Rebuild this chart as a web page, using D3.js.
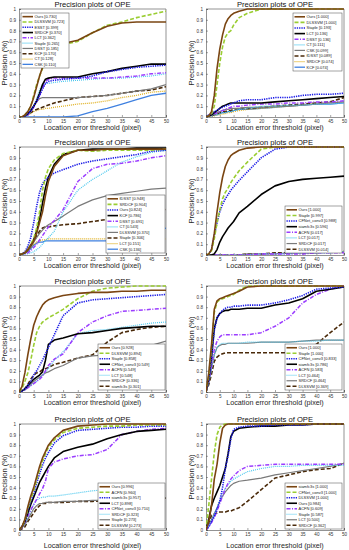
<!DOCTYPE html>
<html><head><meta charset="utf-8">
<script src="https://cdn.jsdelivr.net/npm/d3@7/dist/d3.min.js"></script>
<style>
html,body{margin:0;padding:0;background:#fff;}
svg{display:block;font-family:"Liberation Sans",Arial,sans-serif;}
</style></head>
<body>
<svg id="c" width="349" height="550"></svg>
<script>
// ---------- DATA ----------
const thresholds = [0,1,2,3,4,5,6,7,8,9,10,12,15,20,25,30,35,40,45,50];
const xTicks = [0,5,10,15,20,25,30,35,40,45,50];
const yTicks = [0,0.1,0.2,0.3,0.4,0.5,0.6,0.7,0.8,0.9,1];
const yTickLabels = ["0","0.1","0.2","0.3","0.4","0.5","0.6","0.7","0.8","0.9","1"];
const titleText = "Precision plots of OPE";
const xLabel = "Location error threshold (pixel)";
const yLabel = "Precision (%)";

// Panel 1
const p1Names = ["Ours","DLSSVM","ESST","SRDCF","LCT","Staple","DSST","KCF","CT","CSK"];
const p1Scores = ["0.730","0.723","0.399","0.370","0.362","0.265","0.185","0.170","0.128","0.110"];
const p1Values = [
 [0,0,0.02,0.05,0.10,0.18,0.28,0.38,0.46,0.52,0.58,0.64,0.68,0.71,0.78,0.84,0.87,0.88,0.88,0.88],
 [0,0,0.02,0.05,0.10,0.20,0.30,0.38,0.45,0.52,0.58,0.63,0.67,0.70,0.78,0.85,0.88,0.92,0.95,0.98],
 [0,0,0.01,0.03,0.06,0.10,0.15,0.20,0.26,0.31,0.33,0.34,0.35,0.36,0.38,0.42,0.44,0.46,0.47,0.48],
 [0,0,0.01,0.03,0.06,0.10,0.15,0.22,0.30,0.35,0.36,0.37,0.37,0.37,0.40,0.42,0.45,0.47,0.49,0.49],
 [0,0,0.01,0.02,0.05,0.09,0.14,0.20,0.27,0.33,0.35,0.36,0.36,0.36,0.36,0.36,0.37,0.38,0.40,0.41],
 [0,0,0.01,0.02,0.05,0.10,0.17,0.25,0.30,0.31,0.31,0.32,0.33,0.34,0.35,0.36,0.36,0.37,0.38,0.40],
 [0,0,0.01,0.03,0.06,0.10,0.14,0.17,0.18,0.18,0.18,0.18,0.18,0.18,0.19,0.20,0.22,0.24,0.26,0.30],
 [0,0,0.01,0.02,0.04,0.06,0.07,0.08,0.09,0.10,0.11,0.13,0.15,0.18,0.19,0.20,0.22,0.24,0.25,0.28],
 [0,0,0.01,0.02,0.03,0.05,0.06,0.07,0.07,0.08,0.08,0.09,0.10,0.12,0.13,0.15,0.18,0.20,0.23,0.24],
 [0,0,0,0,0,0,0,0,0,0,0,0,0,0.01,0.05,0.08,0.12,0.16,0.20,0.22]
];

// Panel 2
const p2Names = ["Ours","DLSSVM","Staple","LCT","DSST","CT","CSK","fDSST","SRDCF","KCF"];
const p2Scores = ["1.000","1.000","0.193","0.136","0.136","0.111","0.099","0.089","0.074","0.074"];
const p2Values = [
 [0,0.01,0.05,0.20,0.45,0.63,0.76,0.86,0.91,0.94,0.96,0.98,1,1,1,1,1,1,1,1],
 [0,0.01,0.03,0.10,0.30,0.50,0.65,0.74,0.78,0.80,0.85,0.92,0.96,1,1,1,1,1,1,1],
 [0,0.02,0.03,0.05,0.06,0.08,0.09,0.10,0.11,0.12,0.13,0.15,0.16,0.16,0.18,0.18,0.20,0.21,0.21,0.22],
 [0,0.01,0.02,0.04,0.06,0.08,0.10,0.11,0.12,0.13,0.13,0.13,0.13,0.13,0.14,0.15,0.16,0.17,0.18,0.19],
 [0,0.01,0.02,0.03,0.04,0.05,0.06,0.07,0.08,0.09,0.10,0.10,0.11,0.12,0.12,0.13,0.13,0.14,0.14,0.15],
 [0,0.01,0.01,0.02,0.02,0.03,0.04,0.04,0.05,0.05,0.06,0.07,0.08,0.10,0.10,0.11,0.11,0.12,0.12,0.13],
 [0,0.01,0.02,0.03,0.04,0.05,0.06,0.07,0.07,0.08,0.08,0.08,0.09,0.09,0.10,0.10,0.11,0.12,0.13,0.14],
 [0,0.01,0.01,0.02,0.03,0.04,0.05,0.05,0.06,0.06,0.07,0.08,0.08,0.09,0.10,0.11,0.12,0.13,0.14,0.18],
 [0,0,0.01,0.01,0.02,0.02,0.03,0.03,0.04,0.04,0.05,0.06,0.07,0.08,0.09,0.10,0.11,0.13,0.13,0.14],
 [0,0.01,0.01,0.02,0.02,0.03,0.04,0.04,0.05,0.05,0.06,0.07,0.07,0.08,0.09,0.10,0.11,0.12,0.12,0.13]
];

// Panel 3
const p3Names = ["fDSST","SRDCF","Ours","KCF","DSST","CT","DLSSVM","Staple","LCT","CSK"];
const p3Scores = ["0.948","0.904","0.824","0.786","0.691","0.543","0.370","0.306","0.151","0.136"];
const p3Values = [
 [0,0.01,0.02,0.05,0.09,0.13,0.20,0.30,0.40,0.55,0.68,0.82,0.92,0.97,0.97,0.98,0.98,0.98,0.98,0.98],
 [0,0.01,0.02,0.05,0.10,0.15,0.25,0.40,0.60,0.72,0.80,0.88,0.94,0.97,0.96,0.97,0.97,0.97,0.97,0.98],
 [0,0.01,0.03,0.08,0.16,0.30,0.45,0.58,0.66,0.70,0.72,0.76,0.79,0.84,0.87,0.89,0.91,0.93,0.96,0.97],
 [0,0.01,0.02,0.05,0.09,0.14,0.22,0.33,0.48,0.62,0.72,0.84,0.93,0.97,0.98,0.98,0.98,0.99,0.99,0.99],
 [0,0.01,0.01,0.02,0.04,0.07,0.10,0.14,0.18,0.22,0.26,0.32,0.42,0.68,0.80,0.84,0.85,0.87,0.90,0.92],
 [0,0,0.01,0.01,0.02,0.03,0.05,0.07,0.10,0.13,0.16,0.22,0.40,0.60,0.70,0.78,0.86,0.91,0.95,0.97],
 [0,0.01,0.02,0.04,0.07,0.12,0.16,0.20,0.23,0.26,0.28,0.31,0.36,0.45,0.51,0.55,0.57,0.59,0.61,0.62],
 [0,0.01,0.02,0.04,0.08,0.13,0.18,0.22,0.25,0.26,0.26,0.27,0.28,0.29,0.31,0.33,0.34,0.35,0.38,0.42],
 [0,0.01,0.02,0.04,0.07,0.10,0.12,0.13,0.14,0.14,0.15,0.15,0.15,0.15,0.15,0.15,0.15,0.15,0.15,0.15],
 [0,0.01,0.02,0.03,0.06,0.09,0.11,0.12,0.12,0.13,0.13,0.13,0.13,0.13,0.13,0.13,0.13,0.14,0.20,0.25]
];

// Panel 4
const p4Names = ["Ours","Staple","CFNet_conv3","siamfc3s","ACFN","LCT","SRDCF","DLSSVM"];
const p4Scores = ["1.000","0.997","0.988","0.596","0.017","0.017","0.017","0.014"];
const p4Values = [
 [0,0.01,0.05,0.20,0.40,0.58,0.72,0.82,0.88,0.92,0.94,0.97,0.99,1,1,1,1,1,1,1],
 [0,0.01,0.04,0.15,0.30,0.42,0.52,0.58,0.62,0.67,0.71,0.78,0.86,0.98,1,1,1,1,1,1],
 [0,0.01,0.05,0.18,0.30,0.40,0.47,0.52,0.56,0.60,0.63,0.69,0.77,0.90,0.98,1,1,1,1,1],
 [0,0,0,0.01,0.05,0.12,0.17,0.21,0.25,0.28,0.31,0.39,0.45,0.56,0.64,0.68,0.70,0.71,0.72,0.73],
 [0,0,0,0,0,0,0,0,0,0,0,0,0,0.01,0.01,0.01,0.01,0.02,0.02,0.02],
 [0,0,0,0,0,0,0,0,0,0,0,0,0,0.01,0.01,0.01,0.02,0.02,0.02,0.03],
 [0,0,0,0,0,0,0,0,0,0,0,0,0.01,0.01,0.01,0.02,0.02,0.02,0.03,0.03],
 [0,0,0,0,0,0,0,0,0,0,0,0,0.01,0.01,0.02,0.02,0.03,0.03,0.03,0.04]
];

// Panel 5
const p5Names = ["Ours","DLSSVM","Staple","CFNet_conv3","ACFN","LCT","SRDCF","siamfc3s"];
const p5Scores = ["0.928","0.894","0.858","0.549","0.549","0.548","0.336","0.301"];
const p5Values = [
 [0,0.05,0.18,0.35,0.50,0.63,0.71,0.77,0.82,0.85,0.87,0.89,0.91,0.93,0.94,0.94,0.95,0.95,0.96,0.96],
 [0,0.03,0.10,0.18,0.30,0.44,0.56,0.62,0.66,0.68,0.70,0.73,0.78,0.88,0.95,0.98,0.99,1,1,1],
 [0,0.01,0.03,0.06,0.10,0.16,0.20,0.25,0.30,0.36,0.42,0.54,0.72,0.84,0.87,0.88,0.89,0.90,0.91,0.92],
 [0,0.01,0.03,0.06,0.09,0.12,0.14,0.16,0.19,0.30,0.45,0.49,0.51,0.55,0.56,0.58,0.60,0.61,0.62,0.62],
 [0,0.01,0.02,0.04,0.06,0.08,0.10,0.12,0.15,0.20,0.25,0.31,0.36,0.56,0.66,0.72,0.76,0.77,0.78,0.79],
 [0,0.01,0.02,0.04,0.06,0.08,0.10,0.13,0.16,0.19,0.22,0.30,0.38,0.55,0.58,0.59,0.61,0.63,0.65,0.66],
 [0,0.01,0.02,0.04,0.07,0.10,0.12,0.14,0.16,0.18,0.19,0.22,0.25,0.32,0.34,0.35,0.37,0.39,0.44,0.48],
 [0,0.01,0.03,0.07,0.12,0.16,0.18,0.19,0.21,0.22,0.23,0.26,0.28,0.32,0.35,0.47,0.56,0.59,0.61,0.62]
];

// Panel 6
const p6Names = ["Ours","Staple","CFNet_conv3","siamfc3s","ACFN","LCT","SRDCF","DLSSVM"];
const p6Scores = ["1.000","1.000","0.833","0.786","0.583","0.464","0.464","0.369"];
const p6Values = [
 [0,0.18,0.45,0.78,0.86,0.88,0.89,0.90,0.91,0.92,0.93,0.95,0.99,1,1,1,1,1,1,1],
 [0,0.15,0.42,0.75,0.85,0.87,0.88,0.89,0.90,0.91,0.92,0.96,1,1,1,1,1,1,1,1],
 [0,0.12,0.32,0.58,0.70,0.74,0.77,0.79,0.80,0.80,0.81,0.81,0.82,0.82,0.84,0.87,0.91,0.97,0.98,0.99],
 [0,0.12,0.33,0.60,0.70,0.74,0.76,0.77,0.77,0.78,0.78,0.78,0.79,0.79,0.82,0.84,0.88,0.95,0.97,0.99],
 [0,0.10,0.25,0.40,0.48,0.52,0.54,0.54,0.54,0.54,0.54,0.54,0.54,0.56,0.62,0.70,0.84,0.92,0.97,1],
 [0,0.09,0.22,0.35,0.42,0.45,0.46,0.46,0.46,0.46,0.46,0.46,0.47,0.47,0.47,0.47,0.48,0.48,0.49,0.49],
 [0,0.09,0.22,0.35,0.42,0.44,0.45,0.45,0.46,0.46,0.46,0.46,0.46,0.47,0.47,0.47,0.48,0.49,0.49,0.49],
 [0,0.07,0.17,0.29,0.33,0.35,0.36,0.37,0.37,0.37,0.37,0.37,0.37,0.37,0.37,0.37,0.39,0.45,0.56,0.66]
];

// Panel 7
const p7Names = ["Ours","ACFN","siamfc3s","LCT","CFNet_conv3","SRDCF","Staple","DLSSVM"];
const p7Scores = ["0.996","0.960","0.957","0.898","0.710","0.323","0.273","0.273"];
const p7Values = [
 [0,0.03,0.10,0.22,0.32,0.40,0.50,0.60,0.68,0.74,0.80,0.87,0.94,0.98,0.99,1,1,1,1,1],
 [0,0.03,0.09,0.20,0.29,0.37,0.47,0.57,0.65,0.72,0.78,0.85,0.92,0.96,0.97,0.98,0.98,0.99,0.99,0.99],
 [0,0.03,0.09,0.19,0.27,0.34,0.44,0.53,0.61,0.68,0.73,0.82,0.89,0.94,0.95,0.96,0.97,0.97,0.98,0.98],
 [0,0.03,0.08,0.16,0.24,0.31,0.38,0.45,0.50,0.55,0.60,0.68,0.74,0.78,0.81,0.86,0.90,0.93,0.94,0.95],
 [0,0.02,0.07,0.13,0.19,0.24,0.29,0.34,0.39,0.46,0.58,0.64,0.67,0.70,0.71,0.76,0.90,0.93,0.95,0.96],
 [0,0.02,0.06,0.12,0.18,0.24,0.28,0.30,0.31,0.31,0.32,0.32,0.33,0.35,0.37,0.38,0.39,0.40,0.41,0.42],
 [0,0.02,0.05,0.10,0.15,0.20,0.23,0.25,0.25,0.26,0.26,0.26,0.27,0.27,0.28,0.28,0.29,0.30,0.30,0.30],
 [0,0.01,0.03,0.08,0.12,0.16,0.20,0.23,0.25,0.25,0.26,0.26,0.26,0.27,0.27,0.28,0.29,0.29,0.30,0.30]
];

// Panel 8
const p8Names = ["siamfc3s","CFNet_conv3","DLSSVM","Ours","ACFN","Staple","LCT","SRDCF"];
const p8Scores = ["1.000","1.000","1.000","0.984","0.609","0.587","0.500","0.362"];
const p8Values = [
 [0,0.08,0.23,0.48,0.62,0.82,0.96,0.99,1,1,1,1,1,1,1,1,1,1,1,1],
 [0,0.23,0.48,0.73,0.90,0.97,0.99,1,1,1,1,1,1,1,1,1,1,1,1,1],
 [0,0.03,0.08,0.13,0.20,0.27,0.40,0.58,0.70,0.86,0.95,0.97,0.98,0.98,0.99,0.99,0.99,1,1,1],
 [0,0.10,0.23,0.30,0.36,0.42,0.50,0.58,0.72,0.88,0.93,0.96,0.97,0.98,0.98,0.99,0.99,1,1,1],
 [0,0.03,0.07,0.12,0.18,0.25,0.32,0.39,0.44,0.48,0.51,0.56,0.60,0.61,0.62,0.62,0.62,0.62,0.62,0.62],
 [0,0.04,0.09,0.15,0.21,0.28,0.34,0.39,0.43,0.46,0.48,0.51,0.55,0.58,0.60,0.60,0.61,0.61,0.61,0.61],
 [0,0.04,0.10,0.15,0.21,0.27,0.32,0.36,0.39,0.42,0.44,0.46,0.47,0.49,0.52,0.54,0.56,0.58,0.60,0.63],
 [0,0.06,0.14,0.15,0.16,0.17,0.17,0.17,0.18,0.18,0.19,0.21,0.27,0.38,0.49,0.52,0.55,0.57,0.58,0.63]
];

// ---------- STYLE / LAYOUT ----------
const rankStyles = [
 {c:"#7a4512", d:null, w:1.6},
 {c:"#9acd32", d:"4,2", w:1.6},
 {c:"#1c1ce6", d:"1.3,1", w:1.6},
 {c:"#000000", d:null, w:1.6},
 {c:"#9b3dff", d:"4,1.5,1,1.5", w:1.5},
 {c:"#4cc8ee", d:"1,1", w:1.2},
 {c:"#7a7a7a", d:null, w:1.2},
 {c:"#4a2a0a", d:"4,2", w:1.6},
 {c:"#e0b020", d:"1,1", w:1.3},
 {c:"#3f80e0", d:null, w:1.3}
];

const panels = [
 {names:p1Names, scores:p1Scores, values:p1Values, L:19, R:166, T:9, B:117, lg:[21,13,48,55], xl:13},
 {names:p2Names, scores:p2Scores, values:p2Values, L:206, R:344, T:9, B:117, lg:[293,13,49,58], xl:13},
 {names:p3Names, scores:p3Scores, values:p3Values, L:19, R:166, T:147, B:255, lg:[106,195,59,58], xl:13},
 {names:p4Names, scores:p4Scores, values:p4Values, L:206, R:344, T:147, B:255, lg:[285,206,57,47], xl:13},
 {names:p5Names, scores:p5Scores, values:p5Values, L:19, R:166, T:286, B:392, lg:[98,344,67,46], xl:13},
 {names:p6Names, scores:p6Scores, values:p6Values, L:206, R:344, T:286, B:392, lg:[285,344,57,46], xl:13},
 {names:p7Names, scores:p7Scores, values:p7Values, L:19, R:166, T:424, B:530, lg:[98,483,67,46], xl:18},
 {names:p8Names, scores:p8Scores, values:p8Values, L:206, R:344, T:424, B:530, lg:[285,483,57,46], xl:18}
];

const svg = d3.select("#c");
const axisColor = "#4a4a4a";

panels.forEach((p, pi) => {
  const g = svg.append("g");
  const x = d3.scaleLinear().domain([0,50]).range([p.L, p.R]);
  const y = d3.scaleLinear().domain([0,1]).range([p.B, p.T]);

  const cid = "clip" + pi;
  svg.append("clipPath").attr("id", cid).append("rect")
    .attr("x", p.L).attr("y", p.T - 1).attr("width", p.R - p.L).attr("height", p.B - p.T + 1);

  const xa = g.append("g").attr("transform", `translate(0,${p.B})`)
    .call(d3.axisBottom(x).tickValues(xTicks).tickSize(-2).tickPadding(3).tickFormat(d3.format("d")));
  const ya = g.append("g").attr("transform", `translate(${p.L},0)`)
    .call(d3.axisLeft(y).tickValues(yTicks).tickSize(-2).tickPadding(3).tickFormat((d,i)=>yTickLabels[i]));
  [xa, ya].forEach(a => {
    a.select(".domain").attr("stroke", axisColor).attr("stroke-width", 0.6);
    a.selectAll(".tick line").attr("stroke", axisColor).attr("stroke-width", 0.5);
    a.selectAll(".tick text").attr("fill", "#333").style("font-size", "4.6px")
      .style("font-family", '"Liberation Sans",Arial,sans-serif');
  });
  g.append("line").attr("x1", p.L).attr("x2", p.R).attr("y1", p.T).attr("y2", p.T)
    .attr("stroke", axisColor).attr("stroke-width", 0.6);
  g.append("line").attr("x1", p.R).attr("x2", p.R).attr("y1", p.T).attr("y2", p.B)
    .attr("stroke", axisColor).attr("stroke-width", 0.6);

  const line = d3.line().x((d,i) => x(thresholds[i])).y(d => y(d));
  const lg = g.append("g").attr("clip-path", `url(#${cid})`);
  for (let k = p.values.length - 1; k >= 0; k--) {
    const s = rankStyles[k];
    lg.append("path").datum(p.values[k]).attr("d", line)
      .attr("fill", "none").attr("stroke", s.c).attr("stroke-width", s.w)
      .attr("stroke-dasharray", s.d).attr("stroke-linejoin", "round");
  }

  const cx = (p.L + p.R) / 2;
  g.append("text").attr("x", cx).attr("y", p.T - 2.5).attr("text-anchor", "middle")
    .style("font-size", "7.6px").attr("fill", "#111").text(titleText);
  g.append("text").attr("x", cx).attr("y", p.B + p.xl).attr("text-anchor", "middle")
    .style("font-size", "7.2px").attr("fill", "#262626").text(xLabel);
  g.append("text").attr("transform", `translate(${p.L - 12},${(p.T + p.B) / 2}) rotate(-90)`)
    .attr("text-anchor", "middle").style("font-size", "7.6px").attr("fill", "#262626").text(yLabel);

  const [lx, ly, lw, lh] = p.lg;
  const leg = g.append("g");
  leg.append("rect").attr("x", lx).attr("y", ly).attr("width", lw).attr("height", lh)
    .attr("fill", "#fff").attr("stroke", axisColor).attr("stroke-width", 0.5);
  const n = p.names.length;
  const rowH = (lh - 2) / n;
  p.names.forEach((nm, k) => {
    const s = rankStyles[k];
    const yy = ly + 1 + rowH * (k + 0.5);
    leg.append("line").attr("x1", lx + 1.5).attr("x2", lx + 12).attr("y1", yy).attr("y2", yy)
      .attr("stroke", s.c).attr("stroke-width", s.w).attr("stroke-dasharray", s.d);
    leg.append("text").attr("x", lx + 13.5).attr("y", yy + 1.4)
      .style("font-size", "4px").attr("fill", "#222").text(`${nm} [${p.scores[k]}]`);
  });
});
</script>
</body></html>
